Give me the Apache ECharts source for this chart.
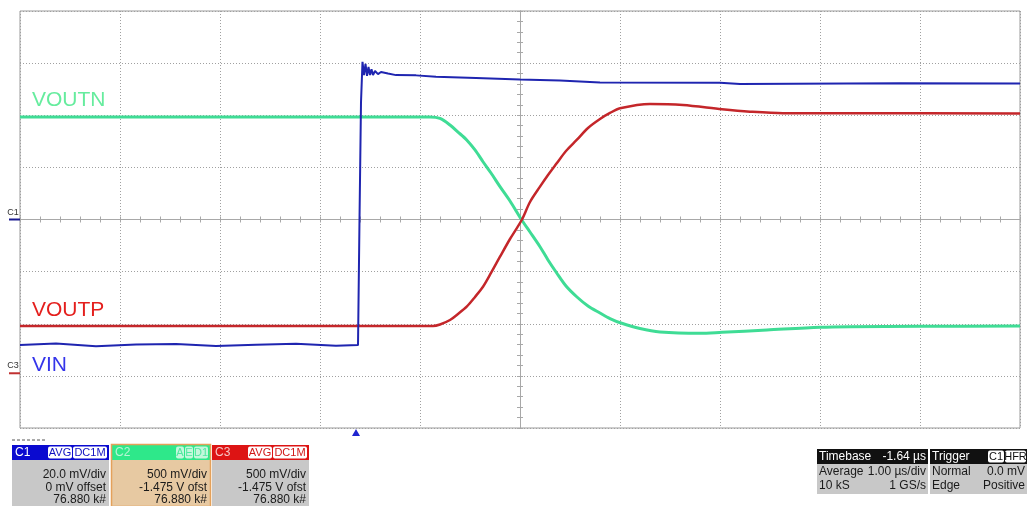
<!DOCTYPE html>
<html>
<head>
<meta charset="utf-8">
<script src="https://cdn.jsdelivr.net/npm/echarts@6/dist/echarts.min.js"></script>
<style>
html,body{margin:0;padding:0;background:#fff;}
#c{width:1028px;height:506px;}
</style>
</head>
<body>
<div id="c"></div>
<script>
// ---- data (time in µs, C1 in mV, C2/C3 in V) ----
var vinTime  = [-3.36,-3.0,-2.6,-2.2,-1.8,-1.4,-1.0,-0.6,-0.2,0.02,0.035,0.05,0.065,0.08,0.095,0.11,0.125,0.14,0.155,0.17,0.19,0.22,0.25,0.32,0.40,0.60,0.80,1.20,1.64,2.04,2.44,3.64,3.84,5.44,6.64];
var vinValue = [-48.2,-47.6,-48.6,-48.0,-47.8,-48.5,-48.1,-47.7,-48.4,-48.2,0,45,60.5,55.4,59.7,55.1,58.5,55.4,57.7,55.4,57.0,55.8,56.6,56.0,55.4,55.3,54.8,54.3,53.7,53.3,52.6,52.5,52.0,52.3,52.2];

var voutnTime  = [-3.36,0.74,0.84,0.94,1.02,1.107,1.19,1.27,1.35,1.44,1.54,1.657,1.74,1.84,1.92,2.007,2.10,2.207,2.32,2.44,2.54,2.65,2.84,3.04,3.44,3.66,4.11,4.64,4.94,5.64,6.64];
var voutnValue = [2.458,2.458,2.444,2.381,2.314,2.238,2.142,2.029,1.921,1.790,1.652,1.470,1.355,1.214,1.087,0.962,0.837,0.734,0.645,0.578,0.525,0.482,0.429,0.396,0.383,0.393,0.415,0.441,0.447,0.451,0.453];

var voutpTime  = [-3.36,0.77,0.84,0.94,1.02,1.107,1.19,1.27,1.35,1.44,1.54,1.657,1.74,1.84,1.92,2.007,2.10,2.207,2.32,2.44,2.54,2.64,2.94,3.27,3.66,3.94,4.27,4.94,6.64];
var voutpValue = [0.453,0.453,0.468,0.511,0.569,0.639,0.732,0.830,0.962,1.118,1.288,1.470,1.643,1.790,1.902,2.014,2.132,2.238,2.353,2.439,2.497,2.542,2.583,2.573,2.532,2.509,2.494,2.494,2.492];

var seriesNames = ['VIN','VOUTN','VOUTP'];
var c1Info = ['20.0 mV/div','0 mV offset','76.880 k#'];
var c2Info = ['500 mV/div','-1.475 V ofst','76.880 k#'];
var c3Info = ['500 mV/div','-1.475 V ofst','76.880 k#'];
var timebaseInfo = [['Timebase','-1.64 µs'],['Average','1.00 µs/div'],['10 kS','1 GS/s']];
var triggerInfo = [['Trigger',''],['Normal','0.0 mV'],['Edge','Positive']];

function pairs(t, v){ return t.map(function(x,i){ return [x, v[i]]; }); }

var FONT = '"Liberation Sans", Arial, sans-serif';
var GL = 20, GT = 11, GW = 1000, GH = 417;

var chart = echarts.init(document.getElementById('c'), null, {renderer:'canvas'});

function hidden(extra){ return Object.assign({type:'value', show:false, min:0, max:1}, extra); }
function tickAxis(base){
  return Object.assign({
    type:'value', interval:0.2,
    axisLine:{show:true, onZero:false, lineStyle:{color:'#a8a8a8', width:1}},
    axisTick:{show:true, inside:true, length:3, lineStyle:{color:'#a8a8a8'}},
    axisLabel:{show:false}, splitLine:{show:false}
  }, base);
}

var option = {
  animation:false,
  backgroundColor:'#ffffff',
  grid:[
    {left:GL, top:GT, width:GW, height:GH, show:true, borderColor:'#9a9a9a', borderWidth:1, backgroundColor:'transparent'},
    {left:GL, top:GT, width:GW, height:GH/2},
    {left:GL, top:GT+GH/2, width:GW, height:GH/2},
    {left:GL, top:GT, width:GW/2, height:GH},
    {left:GL+GW/2, top:GT, width:GW/2, height:GH}
  ],
  xAxis:[
    {gridIndex:0, type:'value', min:0, max:10, interval:1, axisLine:{show:false}, axisTick:{show:false}, axisLabel:{show:false},
     splitLine:{show:true, lineStyle:{type:[1,2], color:'#a0a0a0', width:1}}},
    {gridIndex:0, type:'value', min:-3.36, max:6.64, show:false},
    tickAxis({gridIndex:1, min:0, max:10, position:'bottom'}),
    tickAxis({gridIndex:2, min:0, max:10, position:'top'}),
    hidden({gridIndex:3}),
    hidden({gridIndex:4})
  ],
  yAxis:[
    {gridIndex:0, type:'value', min:-4, max:4, interval:1, axisLine:{show:false}, axisTick:{show:false}, axisLabel:{show:false},
     splitLine:{show:true, lineStyle:{type:[1,2], color:'#a0a0a0', width:1}}},
    {gridIndex:0, type:'value', min:-80, max:80, show:false},
    {gridIndex:0, type:'value', min:-0.525, max:3.475, show:false},
    hidden({gridIndex:1}),
    hidden({gridIndex:2}),
    tickAxis({gridIndex:3, min:-4, max:4, position:'right'}),
    tickAxis({gridIndex:4, min:-4, max:4, position:'left'})
  ],
  series:[
    {name:seriesNames[1], type:'line', xAxisIndex:1, yAxisIndex:2, data:pairs(voutnTime, voutnValue), showSymbol:false, smooth:0.3,
     lineStyle:{color:'#3fdc95', width:3}, z:3},
    {name:seriesNames[2], type:'line', xAxisIndex:1, yAxisIndex:2, data:pairs(voutpTime, voutpValue), showSymbol:false, smooth:0.3,
     lineStyle:{color:'#c4262a', width:2.5}, z:4},
    {name:seriesNames[0], type:'line', xAxisIndex:1, yAxisIndex:1, data:pairs(vinTime, vinValue), showSymbol:false,
     lineStyle:{color:'#1f25b0', width:2}, z:5}
  ],
  graphic:[]
};
chart.setOption(option);

// ---- annotations ----
var g = [];
function txt(x,y,s,size,color,align,weight){
  g.push({type:'text', z:100, style:{x:x, y:y, text:s, fill:color, font:(weight||'normal')+' '+size+'px '+FONT, textAlign:align||'left', textVerticalAlign:'middle'}});
}
function rect(x,y,w,h,fill,stroke,r){
  g.push({type:'rect', z:90, shape:{x:x,y:y,width:w,height:h,r:r||0}, style:{fill:fill, stroke:stroke||null, lineWidth:stroke?1:0}});
}

// trace labels
txt(32, 100, seriesNames[1], 21, '#66ec9e');
txt(32, 310, seriesNames[2], 21, '#e41f1d');
txt(32, 365, seriesNames[0], 21, '#3535ea');

// channel ground markers
var c1y = chart.convertToPixel({yAxisIndex:1}, 0);
var c3y = chart.convertToPixel({yAxisIndex:2}, 0);
txt(13, c1y-7, 'C1', 9, '#333', 'center');
g.push({type:'line', z:100, shape:{x1:9,y1:c1y,x2:20,y2:c1y}, style:{stroke:'#1a1a90', lineWidth:2}});
txt(13, c3y-8, 'C3', 9, '#333', 'center');
g.push({type:'line', z:100, shape:{x1:9,y1:c3y,x2:20,y2:c3y}, style:{stroke:'#c03030', lineWidth:2}});

// trigger marker at t = 0
var tx = chart.convertToPixel({xAxisIndex:1}, 0);
g.push({type:'polygon', z:100, shape:{points:[[tx-4,436],[tx+4,436],[tx,429]]}, style:{fill:'#1f25d0'}});

// small dashes above C1 panel
g.push({type:'line', z:100, shape:{x1:12,y1:440,x2:45,y2:440}, style:{stroke:'#555', lineWidth:1, lineDash:[3,2]}});

// ---- channel panels ----
function chanPanel(x, w, headFill, name, nameColor, boxes, boxColor, bodyFill, border, info){
  rect(x, 460, w, 46, bodyFill, null);
  rect(x, 445, w, 15, headFill, null);
  if (border){ g.push({type:'rect', z:95, shape:{x:x-0.5,y:444.5,width:w+1,height:62}, style:{fill:null, stroke:border, lineWidth:1.5}}); }
  txt(x+3, 452.5, name, 12, nameColor);
  var bx = x + w - 2;
  for (var i = boxes.length-1; i >= 0; i--){
    var b = boxes[i];
    rect(bx - b.w, 446.5, b.w, 12, b.fill || '#ffffff', null, 2);
    txt(bx - b.w/2, 452.8, b.t, 11, boxColor, 'center');
    bx -= b.w + 1;
  }
  for (var k = 0; k < info.length; k++){
    txt(x + w - 3, 475 + k*12.5, info[k], 12, '#1a1a1a', 'right');
  }
}
chanPanel(12, 97, '#0a0ad0', 'C1', '#ffffff', [{t:'AVG',w:24},{t:'DC1M',w:34}], '#1010c0', '#c8c8c8', null, c1Info);
chanPanel(112, 98, '#2ee88a', 'C2', '#b8f5d5', [{t:'A',w:8,fill:'#c4f7dc'},{t:'E',w:8,fill:'#c4f7dc'},{t:'D1',w:14,fill:'#c4f7dc'}], '#50e8a0', '#e7c9a2', '#e4a15a', c2Info);
chanPanel(212, 97, '#dd1414', 'C3', '#f6c6c6', [{t:'AVG',w:24},{t:'DC1M',w:34}], '#d01818', '#c8c8c8', null, c3Info);

// ---- timebase / trigger panels ----
function infoPanel(x, w, info, boxes){
  rect(x, 464, w, 30, '#c8c8c8', null);
  rect(x, 449, w, 15, '#111111', null);
  txt(x+2, 456.5, info[0][0], 12, '#ffffff');
  if (info[0][1]) txt(x+w-2, 456.5, info[0][1], 12, '#ffffff', 'right');
  if (boxes){
    var bx = x + w - 1;
    for (var i = boxes.length-1; i >= 0; i--){
      var b = boxes[i];
      rect(bx - b.w, 450.5, b.w, 12, '#ffffff', null, 2);
      txt(bx - b.w/2, 456.8, b.t, 11, '#111', 'center');
      bx -= b.w + 1;
    }
  }
  for (var k = 1; k < info.length; k++){
    txt(x+2, 471.5 + (k-1)*14.5, info[k][0], 12, '#1a1a1a');
    txt(x+w-2, 471.5 + (k-1)*14.5, info[k][1], 12, '#1a1a1a', 'right');
  }
}
infoPanel(817, 111, timebaseInfo, null);
infoPanel(930, 97, triggerInfo, [{t:'C1',w:16},{t:'HFR',w:21}]);

chart.setOption({graphic:g});
</script>
</body>
</html>
